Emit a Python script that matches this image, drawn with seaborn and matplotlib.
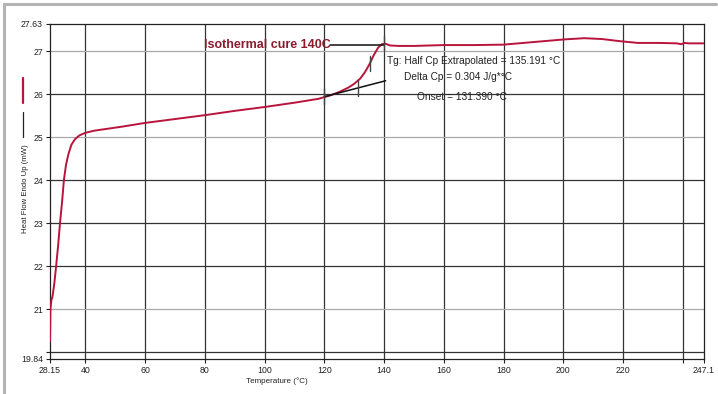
import numpy as np
import pandas as pd
import matplotlib
matplotlib.use("Agg")
import matplotlib.pyplot as plt
from matplotlib.lines import Line2D
import seaborn as sns

# DSC heating scan: temperature (°C) vs heat flow (mW)
temperature = [28.15, 28.3, 28.6, 29.0, 29.6, 30.2, 30.9, 31.5, 32.2, 32.8,
               33.5, 34.3, 35.3, 36.5, 38.0, 40, 43, 47, 52, 60,
               70, 80, 90, 100, 110, 118, 122, 125, 128, 130,
               132, 133.5, 135, 136.5, 138, 139.2, 140.5, 142, 145, 150,
               160, 170, 180, 190, 200, 207, 213, 219, 225, 232,
               238, 239.5, 240.5, 242, 247.1]
heat_flow = [20.25, 21.0, 21.2, 21.3, 21.6, 22.0, 22.5, 23.0, 23.5, 24.0,
             24.35, 24.6, 24.82, 24.95, 25.04, 25.10, 25.15, 25.19, 25.24, 25.33,
             25.42, 25.51, 25.61, 25.70, 25.80, 25.89, 25.97, 26.05, 26.15, 26.24,
             26.36, 26.50, 26.68, 26.90, 27.08, 27.16, 27.17, 27.13, 27.12, 27.12,
             27.14, 27.14, 27.15, 27.21, 27.27, 27.30, 27.28, 27.23, 27.19, 27.19,
             27.18, 27.16, 27.19, 27.18, 27.18]

# Glass transition analysis results
tg_half_cp = 135.191
onset = 131.390
delta_cp = 0.304
tangent_x = [120.0, 140.5]
tangent_y = [25.94, 26.31]
iso_temp = 140
iso_level = 27.14

x_ticks = [28.15, 40, 60, 80, 100, 120, 140, 160, 180, 200, 220, 240, 247.1]
x_labels = ["28.15", "40", "60", "80", "100", "120", "140", "160", "180",
            "200", "220", "", "247.1"]
y_ticks = [19.84, 20, 21, 22, 23, 24, 25, 26, 27, 27.63]
y_labels = ["19.84", "", "21", "22", "23", "24", "25", "26", "27", "27.63"]

sns.set_theme(style="white")
plt.rcParams["font.family"] = ["Liberation Sans", "DejaVu Sans"]

W, H = 718, 394
fig = plt.figure(figsize=(W / 100, H / 100), dpi=100)
ax = fig.add_axes([50 / W, 1 - 359 / H, 654 / W, 335 / H])

red = "#b8143c"
df = pd.DataFrame({"Temperature": temperature, "HeatFlow": heat_flow})
sns.lineplot(data=df, x="Temperature", y="HeatFlow", color=red, lw=1.4,
             sort=False, estimator=None, ax=ax, zorder=4)

ax.set_xlim(28.15, 247.1)
ax.set_ylim(19.84, 27.63)
ax.set_xticks(x_ticks)
ax.set_xticklabels(x_labels)
ax.set_yticks(y_ticks)
ax.set_yticklabels(y_labels)
ax.tick_params(axis="both", which="major", length=3, width=0.8, pad=2,
               labelsize=6.3, color="#222222", labelcolor="#222222",
               bottom=True, left=True)

# grid lines
for gx in x_ticks[1:-1]:
    ax.axvline(gx, color="#333333", lw=0.9, zorder=1)
light_rows = {27, 25, 21}
for gy in y_ticks[1:-1]:
    ax.axhline(gy, color="#a8a8a8" if gy in light_rows else "#333333",
               lw=0.9, zorder=1)
for s in ax.spines.values():
    s.set_color("#222222")
    s.set_linewidth(0.9)

ax.set_xlabel("Temperature (°C)", fontsize=5.8, color="#222222", labelpad=0)
ax.xaxis.set_label_coords(0.347, -0.054)
ax.set_ylabel("Heat Flow Endo Up (mW)", fontsize=5.6, color="#222222")
ax.yaxis.set_label_coords(-0.032, 0.51)

# legend strokes beside the y label
fig.add_artist(Line2D([23 / W, 23 / W], [1 - 78 / H, 1 - 103 / H],
                      color=red, lw=1.6))
fig.add_artist(Line2D([23 / W, 23 / W], [1 - 112 / H, 1 - 137 / H],
                      color="#222222", lw=0.9))

# tangent baseline and event markers
ax.plot(tangent_x, tangent_y, color="#111111", lw=1.1, zorder=5)
ax.plot([121.8, iso_temp], [iso_level, iso_level], color="#111111",
        lw=1.1, zorder=5)
onset_y = tangent_y[0] + (onset - tangent_x[0]) * (
    (tangent_y[1] - tangent_y[0]) / (tangent_x[1] - tangent_x[0]))
tg_y = float(np.interp(tg_half_cp, temperature, heat_flow))
for mx, my in [(120.0, 25.96), (onset, onset_y), (tg_half_cp, tg_y),
               (iso_temp, 27.18)]:
    ax.plot([mx, mx], [my - 0.18, my + 0.18], color="#444444", lw=1.0,
            zorder=6)

ax.text(79.8, iso_level, "Isothermal cure 140C", color="#8a1c2e",
        fontsize=9, fontweight="bold", va="center", ha="left", zorder=7)
ax.text(141.0, 26.77, f"Tg: Half Cp Extrapolated = {tg_half_cp:.3f} °C",
        fontsize=7.3, color="#222222", va="center", ha="left", zorder=7)
ax.text(146.7, 26.40, f"Delta Cp = {delta_cp:.3f} J/g*°C",
        fontsize=7.3, color="#222222", va="center", ha="left", zorder=7)
ax.text(151.0, 25.93, f"Onset = {onset:.3f} °C",
        fontsize=7.3, color="#222222", va="center", ha="left", zorder=7)

# outer window frame
fig.add_artist(Line2D([4 / W, 716 / W], [1 - 4 / H, 1 - 4 / H],
                      color="#b4b4b4", lw=2.2))
fig.add_artist(Line2D([4 / W, 4 / W], [1 - 4 / H, 0], color="#b4b4b4",
                      lw=2.2))

fig.savefig("out.png", dpi=100, facecolor="white")
